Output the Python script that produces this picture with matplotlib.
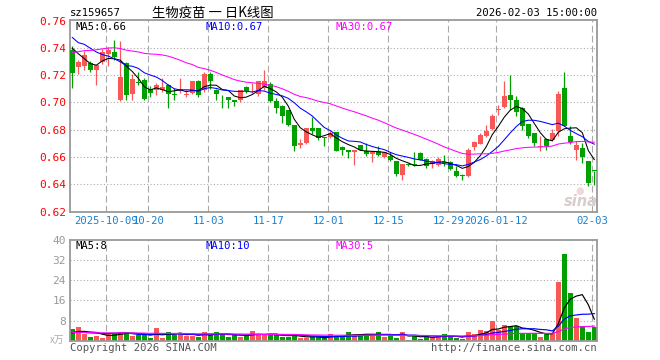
import numpy as np
import pandas as pd
import matplotlib
matplotlib.use("Agg")
import matplotlib.pyplot as plt

# Daily candles for sz159657, 2025-09-23 .. 2026-02-03 (88 trading days)
opens = [0.7383, 0.7260, 0.7268, 0.7290, 0.7236, 0.7297, 0.7353, 0.7371, 0.7016, 0.7292,
         0.7060, 0.7150, 0.7163, 0.7101, 0.7094, 0.7089, 0.7131, 0.7063, 0.7084, 0.7055,
         0.7069, 0.7155, 0.7089, 0.7207, 0.7094, 0.7006, 0.7043, 0.7016, 0.7016, 0.7115,
         0.7088, 0.7059, 0.7107, 0.7137, 0.7010, 0.6973, 0.6944, 0.6832, 0.6685, 0.6700,
         0.6810, 0.6810, 0.6743, 0.6749, 0.6784, 0.6671, 0.6654, 0.6635, 0.6686, 0.6642,
         0.6622, 0.6642, 0.6598, 0.6610, 0.6574, 0.6466, 0.6542, 0.6547, 0.6630, 0.6586,
         0.6552, 0.6544, 0.6566, 0.6561, 0.6495, 0.6461, 0.6459, 0.6671, 0.6698, 0.6752,
         0.6806, 0.6943, 0.6967, 0.7058, 0.7021, 0.6960, 0.6845, 0.6777, 0.6674, 0.6735,
         0.6723, 0.6789, 0.7107, 0.6757, 0.6654, 0.6666, 0.6574, 0.6496]
highs = [0.7412, 0.7314, 0.7378, 0.7305, 0.7275, 0.7395, 0.7407, 0.7461, 0.7450, 0.7297,
         0.7211, 0.7224, 0.7182, 0.7118, 0.7143, 0.7182, 0.7138, 0.7104, 0.7180, 0.7089,
         0.7158, 0.7163, 0.7224, 0.7224, 0.7101, 0.7052, 0.7043, 0.7016, 0.7094, 0.7120,
         0.7144, 0.7161, 0.7241, 0.7149, 0.7034, 0.6978, 0.6944, 0.6832, 0.6734, 0.6810,
         0.6895, 0.6810, 0.6743, 0.6790, 0.6784, 0.6679, 0.6654, 0.6654, 0.6691, 0.6703,
         0.6642, 0.6679, 0.6637, 0.6635, 0.6574, 0.6552, 0.6557, 0.6635, 0.6635, 0.6593,
         0.6581, 0.6600, 0.6618, 0.6569, 0.6532, 0.6478, 0.6667, 0.6715, 0.6777, 0.6838,
         0.6918, 0.6984, 0.7160, 0.7200, 0.7050, 0.6967, 0.6845, 0.6777, 0.6757, 0.6740,
         0.6806, 0.7082, 0.7222, 0.6830, 0.6715, 0.6703, 0.6574, 0.6496]
lows = [0.7105, 0.7211, 0.7236, 0.7224, 0.7126, 0.7280, 0.7268, 0.7314, 0.7011, 0.7016,
        0.7016, 0.7126, 0.7016, 0.7040, 0.7052, 0.7077, 0.6962, 0.7018, 0.7067, 0.7040,
        0.7065, 0.7040, 0.7077, 0.7101, 0.7016, 0.6962, 0.6962, 0.6972, 0.7003, 0.7070,
        0.7070, 0.7051, 0.7095, 0.7002, 0.6924, 0.6851, 0.6827, 0.6643, 0.6668, 0.6693,
        0.6766, 0.6724, 0.6680, 0.6741, 0.6642, 0.6618, 0.6593, 0.6539, 0.6650, 0.6610,
        0.6561, 0.6605, 0.6593, 0.6569, 0.6459, 0.6434, 0.6532, 0.6532, 0.6576, 0.6520,
        0.6520, 0.6532, 0.6532, 0.6503, 0.6451, 0.6434, 0.6454, 0.6654, 0.6698, 0.6747,
        0.6801, 0.6911, 0.6960, 0.6946, 0.6899, 0.6801, 0.6740, 0.6679, 0.6642, 0.6654,
        0.6715, 0.6757, 0.6825, 0.6698, 0.6581, 0.6556, 0.6390, 0.6398]
closes = [0.7216, 0.7297, 0.7346, 0.7236, 0.7273, 0.7371, 0.7388, 0.7334, 0.7187, 0.7052,
          0.7175, 0.7140, 0.7023, 0.7070, 0.7126, 0.7114, 0.7060, 0.7058, 0.7101, 0.7065,
          0.7155, 0.7052, 0.7207, 0.7158, 0.7060, 0.7000, 0.7016, 0.7003, 0.7094, 0.7083,
          0.7095, 0.7161, 0.7161, 0.7010, 0.6961, 0.6900, 0.6832, 0.6680, 0.6700, 0.6810,
          0.6790, 0.6741, 0.6741, 0.6778, 0.6647, 0.6654, 0.6635, 0.6654, 0.6654, 0.6622,
          0.6642, 0.6618, 0.6637, 0.6576, 0.6478, 0.6552, 0.6539, 0.6540, 0.6581, 0.6532,
          0.6569, 0.6586, 0.6559, 0.6515, 0.6464, 0.6459, 0.6654, 0.6710, 0.6764, 0.6794,
          0.6899, 0.6955, 0.7050, 0.7021, 0.6928, 0.6825, 0.6752, 0.6703, 0.6684, 0.6679,
          0.6777, 0.7065, 0.6830, 0.6708, 0.6691, 0.6600, 0.6410, 0.6495]
# volume in 万 (10k)
volumes = [4.8, 5.6, 2.5, 1.6, 2.0, 1.2, 3.2, 2.7, 3.6, 3.6,
           2.0, 2.4, 2.3, 0.9, 5.2, 0.9, 3.6, 2.3, 3.2, 2.0,
           2.0, 1.3, 3.6, 2.3, 3.6, 2.5, 1.6, 2.1, 1.6, 2.3,
           4.0, 2.3, 2.3, 2.3, 2.3, 1.6, 1.6, 2.7, 0.9, 0.9,
           1.6, 1.6, 0.9, 2.5, 1.9, 1.9, 3.6, 1.9, 2.7, 2.7,
           1.9, 3.6, 1.6, 2.7, 1.2, 3.6, 0.3, 1.9, 0.8, 1.9,
           1.6, 1.6, 2.7, 1.6, 1.2, 0.8, 3.6, 2.7, 4.4, 4.0,
           7.7, 4.4, 6.3, 5.7, 5.7, 3.1, 3.1, 3.1, 1.6, 2.7,
           3.1, 23.3, 34.4, 18.9, 8.9, 6.0, 3.3, 5.6]

# estimated 29 sessions before the window, only used to seed the moving averages
prev_close = [0.705, 0.712, 0.718, 0.715, 0.716, 0.720, 0.728, 0.735, 0.741, 0.738,
              0.733, 0.733, 0.722, 0.718, 0.726, 0.734, 0.748, 0.757, 0.762, 0.755,
              0.768, 0.747, 0.752, 0.755, 0.756, 0.750, 0.7526, 0.742, 0.733]
prev_vol = [2.8, 3.5, 4.1, 3.0, 2.6, 3.9, 3.3, 2.9, 3.6, 4.2,
            3.1, 2.7, 3.4, 3.8, 2.9, 3.2, 3.6, 2.5, 3.0, 3.7,
            3.3, 2.8, 3.5, 3.1, 2.6, 3.0, 2.4, 2.9, 2.7]

tick_idx = [6, 13, 23, 33, 43, 53, 63, 71, 87]
tick_labels = ["2025-10-09", "10-20", "11-03", "11-17", "12-01", "12-15",
               "12-29", "2026-01-12", "02-03"]
price_ticks = [0.62, 0.64, 0.66, 0.68, 0.70, 0.72, 0.74, 0.76]
vol_ticks = [8, 16, 24, 32, 40]

RED = "#f85858"
GREEN = "#00a000"
GRID = "#aaaaaa"
MONO = "DejaVu Sans Mono"
CJK = ["Noto Sans CJK SC", "DejaVu Sans"]
W, H = 660, 360


def fx(x):
    return x / W


def fy(y):
    return 1 - y / H


def ma(prev, vals, n):
    s = pd.Series(list(prev) + list(vals))
    return s.rolling(n).mean().iloc[len(prev):].to_numpy()


def style_axes(a):
    for sp in a.spines.values():
        sp.set_color("#999999")
        sp.set_linewidth(1.3)
    a.tick_params(length=0)
    # date grid sits ~2px left of the candle centres, as on the sina chart
    for t in tick_idx:
        a.axvline(t - 0.33, color=GRID, lw=0.8, ls=(0, (6, 3)), zorder=0)


o = np.array(opens)
c = np.array(closes)
x = np.arange(len(o))
colors = [RED if u else GREEN for u in (c >= o)]

fig = plt.figure(figsize=(W / 100, H / 100), dpi=100)
ax = fig.add_axes([fx(70), fy(211.5), fx(527), 191.5 / H])
axv = fig.add_axes([fx(70), fy(340.7), fx(527), 100.7 / H])

# price panel
style_axes(ax)
for p in price_ticks[1:-1]:
    ax.axhline(p, color=GRID, lw=0.8, ls=(0, (1, 2)), zorder=0)
ax.vlines(x, lows, highs, colors=colors, lw=0.9, zorder=2)
body = np.maximum(np.abs(c - o), 0.0006)
ax.bar(x, body, bottom=np.minimum(o, c), width=0.8, color=colors, lw=0, zorder=3)

ma5 = ma(prev_close, closes, 5)
ma10 = ma(prev_close, closes, 10)
ma30 = ma(prev_close, closes, 30)
ax.plot(x, ma5, color="black", lw=0.75, zorder=4)
ax.plot(x, ma10, color="#0000ff", lw=0.75, zorder=4)
ax.plot(x, ma30, color="#ff00ff", lw=0.75, zorder=4)

ax.set_xlim(-0.38, 87.45)
ax.set_ylim(0.62, 0.7605)
ax.set_yticks(price_ticks)
ax.set_yticklabels([f"{p:.2f}" for p in price_ticks], color="#ff0000",
                   family=MONO, fontsize=8)
ax.set_xticks([t - 0.33 for t in tick_idx])
ax.set_xticklabels(tick_labels, color="#1a80d0", family=MONO, fontsize=7.6)
ax.tick_params(axis="y", pad=3)
ax.tick_params(axis="x", pad=3.5)

fig.text(fx(75), fy(27), f"MA5:{ma5[-1]:.2f}", family=MONO, fontsize=7.6,
         color="black", va="center")
fig.text(fx(205), fy(27), f"MA10:{ma10[-1]:.2f}", family=MONO, fontsize=7.6,
         color="#0000ff", va="center")
fig.text(fx(335), fy(27), f"MA30:{ma30[-1]:.2f}", family=MONO, fontsize=7.6,
         color="#ff00ff", va="center")

# faint sina watermark
fig.text(fx(581), fy(202), "sina", fontsize=10.5, color="#d8cccc", style="italic",
         weight="bold", ha="center", va="center")
fig.text(fx(580), fy(191), "●", fontsize=7, color="#f0d8d8", ha="center", va="center")

# volume panel
style_axes(axv)
for v in vol_ticks[:-1]:
    axv.axhline(v, color=GRID, lw=0.8, ls=(0, (1, 2)), zorder=0)
axv.bar(x, volumes, width=0.8, color=colors, lw=0, zorder=2)
vma5 = ma(prev_vol, volumes, 5)
vma10 = ma(prev_vol, volumes, 10)
vma30 = ma(prev_vol, volumes, 30)
axv.plot(x, vma5, color="black", lw=0.85, zorder=3)
axv.plot(x, vma10, color="#0000ff", lw=0.85, zorder=3)
axv.plot(x, vma30, color="#ff00ff", lw=0.85, zorder=3)
axv.set_xlim(-0.38, 87.45)
axv.set_ylim(0, 40)
axv.set_xticks([])
axv.set_yticks(vol_ticks)
axv.set_yticklabels([str(v) for v in vol_ticks], color="#999999", family=MONO,
                    fontsize=8)
axv.tick_params(axis="y", pad=3)

fig.text(fx(75), fy(246), f"MA5:{int(vma5[-1])}", family=MONO, fontsize=7.6,
         color="black", va="center")
fig.text(fx(205), fy(246), f"MA10:{int(vma10[-1])}", family=MONO, fontsize=7.6,
         color="#0000ff", va="center")
fig.text(fx(335), fy(246), f"MA30:{int(vma30[-1])}", family=MONO, fontsize=7.6,
         color="#ff00ff", va="center")
fig.text(fx(64), fy(340), "x万", family=CJK, fontsize=7, color="#aaaaaa",
         ha="right", va="center", style="italic")

# header / footer texts
fig.text(fx(70), fy(13), "sz159657", family=MONO, fontsize=7.6, va="center")
fig.text(fx(213), fy(13), "生物疫苗 一 日K线图", family=CJK, fontsize=9.6,
         ha="center", va="center")
fig.text(fx(597), fy(13), "2026-02-03 15:00:00", family=MONO, fontsize=7.6,
         ha="right", va="center")
fig.text(fx(70), fy(348), "Copyright 2026 SINA.COM", family=MONO, fontsize=7.6,
         color="#555555", va="center")
fig.text(fx(597), fy(348), "http://finance.sina.com.cn", family=MONO, fontsize=7.6,
         color="#555555", ha="right", va="center")

fig.savefig("out.png", dpi=100, facecolor="white")
